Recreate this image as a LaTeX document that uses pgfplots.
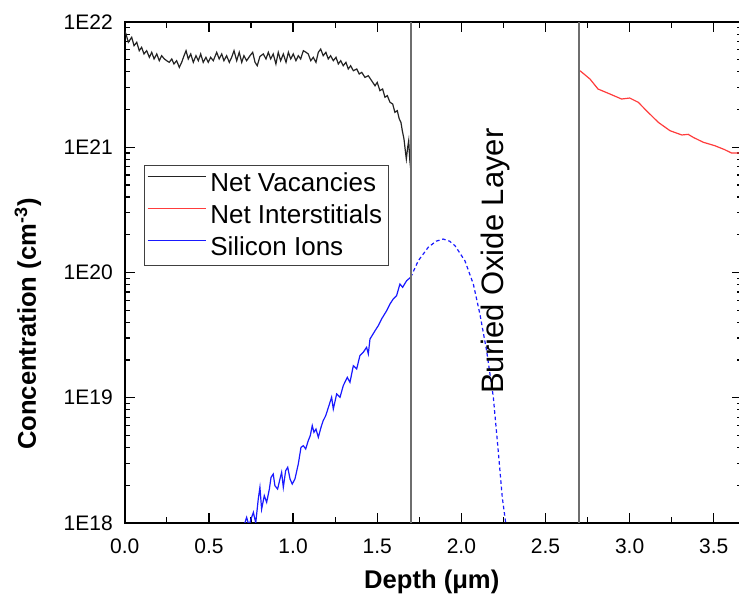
\documentclass[border=0pt]{standalone}
\usepackage{fontspec}
\setmainfont{Liberation Sans}
\usepackage{pgfplots}
\pgfplotsset{compat=1.18}
\definecolor{vacblack}{RGB}{35,35,35}
\definecolor{intred}{RGB}{255,60,60}
\definecolor{ionblue}{RGB}{25,25,255}
\definecolor{divgray}{RGB}{110,110,110}

\begin{document}
% y values are log10 of the concentration (cm^-3)
\begin{tikzpicture}
\useasboundingbox (-62.4pt,-38pt) rectangle (307.1pt,261.5pt);
\clip (-62.4pt,-38pt) rectangle (307.1pt,261.5pt);
\begin{axis}[
  at={(0pt,0pt)}, anchor=south west,
  scale only axis, width=308.8pt, height=250.5pt,
  xmin=0, xmax=3.67, ymin=18, ymax=22,
  xtick={0,0.5,...,3.5},
  xticklabels={0.0,0.5,1.0,1.5,2.0,2.5,3.0,3.5},
  minor x tick num=1,
  ytick={18,19,20,21,22},
  yticklabels={1E18,1E19,1E20,1E21,1E22},
  minor ytick={18.30103,18.47712,18.60206,18.69897,18.77815,18.84510,18.90309,18.95424,
               19.30103,19.47712,19.60206,19.69897,19.77815,19.84510,19.90309,19.95424,
               20.30103,20.47712,20.60206,20.69897,20.77815,20.84510,20.90309,20.95424,
               21.30103,21.47712,21.60206,21.69897,21.77815,21.84510,21.90309,21.95424},
  tick align=inside,
  major tick length=5pt, minor tick length=2.8pt,
  every tick/.style={black, line width=0.6pt},
  axis line style={black, line width=0.9pt},
  tick label style={font=\fontsize{10.5}{12}\selectfont},
  xticklabel style={yshift=-4.5pt},
  yticklabel style={xshift=-2.5pt},
  xlabel={Depth (μm)},
  ylabel={Concentration (cm\textsuperscript{-3})},
  label style={font=\bfseries\fontsize{12.8}{15}\selectfont},
  xlabel style={at={(axis description cs:0.497,-0.118)}, anchor=center},
  ylabel style={at={(axis description cs:-0.157,0.397)}, anchor=center},
  legend style={at={(axis description cs:0.0316,0.7146)}, anchor=north west,
    draw=black!75, font=\fontsize{13}{15.6}\selectfont,
    inner sep=1pt, row sep=0pt,
    nodes={inner sep=2pt, text height=10pt, text depth=2pt}},
  legend cell align=left,
  legend image code/.code={\draw[#1, line width=0.8pt] (0pt,3.5pt) -- (29pt,3.5pt);},
]
\addplot[vacblack, line width=0.6pt] coordinates {
(0.000,21.930) (0.007,21.904) (0.021,21.838) (0.041,21.878) (0.055,21.811)
(0.071,21.838) (0.086,21.771) (0.100,21.798) (0.114,21.745) (0.130,21.771)
(0.146,21.718) (0.160,21.758) (0.174,21.705) (0.190,21.745) (0.205,21.691)
(0.219,21.731) (0.235,21.705) (0.249,21.691) (0.264,21.678) (0.279,21.705)
(0.292,21.665) (0.308,21.691) (0.324,21.638) (0.338,21.678) (0.352,21.731)
(0.364,21.771) (0.377,21.705) (0.392,21.745) (0.407,21.678) (0.423,21.731)
(0.437,21.691) (0.451,21.745) (0.466,21.678) (0.482,21.718) (0.496,21.678)
(0.510,21.718) (0.526,21.691) (0.546,21.758) (0.561,21.705) (0.576,21.745)
(0.589,21.691) (0.605,21.731) (0.621,21.678) (0.635,21.718) (0.649,21.771)
(0.665,21.691) (0.680,21.758) (0.695,21.678) (0.708,21.731) (0.724,21.691)
(0.744,21.731) (0.760,21.758) (0.774,21.678) (0.787,21.651) (0.803,21.725)
(0.823,21.745) (0.839,21.705) (0.853,21.758) (0.867,21.705) (0.882,21.745)
(0.898,21.665) (0.912,21.758) (0.926,21.691) (0.942,21.745) (0.958,21.678)
(0.972,21.758) (0.986,21.705) (1.001,21.745) (1.017,21.691) (1.031,21.731)
(1.045,21.705) (1.061,21.771) (1.077,21.758) (1.090,21.745) (1.105,21.691)
(1.120,21.718) (1.136,21.678) (1.150,21.758) (1.164,21.784) (1.179,21.731)
(1.195,21.758) (1.209,21.705) (1.223,21.731) (1.239,21.691) (1.255,21.718)
(1.269,21.665) (1.283,21.691) (1.298,21.651) (1.314,21.678) (1.328,21.625)
(1.342,21.651) (1.358,21.611) (1.378,21.625) (1.393,21.585) (1.408,21.598)
(1.427,21.558) (1.447,21.571) (1.467,21.531) (1.487,21.491) (1.500,21.518)
(1.516,21.452) (1.532,21.465) (1.546,21.399) (1.560,21.412) (1.576,21.359)
(1.592,21.345) (1.605,21.279) (1.619,21.292) (1.631,21.226) (1.641,21.199)
(1.649,21.132) (1.659,21.066) (1.667,20.972) (1.673,20.906) (1.681,21.000)
(1.687,21.052) (1.693,20.906) (1.699,20.826) (1.700,20.080)
};
\addlegendentry{Net Vacancies}
\addplot[intred, line width=0.6pt] coordinates {
(2.705,21.611) (2.764,21.545) (2.812,21.465) (2.883,21.425) (2.952,21.385)
(3.000,21.393) (3.051,21.359) (3.100,21.292) (3.170,21.199) (3.240,21.132)
(3.310,21.098) (3.348,21.103) (3.378,21.079) (3.437,21.040) (3.507,21.012)
(3.566,20.980) (3.605,20.954) (3.650,20.954) (3.700,20.954)
};
\addlegendentry{Net Interstitials}
\addplot[ionblue, line width=0.6pt] coordinates {
(0.700,17.900) (0.714,18.003) (0.724,18.045) (0.738,17.980) (0.750,18.030)
(0.764,18.085) (0.778,18.000) (0.793,18.190) (0.803,18.285) (0.813,18.110)
(0.829,18.218) (0.843,18.165) (0.859,18.271) (0.869,18.365) (0.882,18.391)
(0.892,18.298) (0.908,18.271) (0.922,18.351) (0.932,18.405) (0.942,18.285)
(0.956,18.418) (0.968,18.445) (0.982,18.351) (0.995,18.311) (1.011,18.351)
(1.031,18.471) (1.047,18.604) (1.061,18.617) (1.075,18.591) (1.090,18.657)
(1.102,18.697) (1.114,18.777) (1.124,18.724) (1.136,18.750) (1.150,18.684)
(1.166,18.764) (1.179,18.817) (1.194,18.857) (1.209,18.920) (1.229,19.004)
(1.239,18.910) (1.259,19.030) (1.279,19.004) (1.298,19.096) (1.322,19.163)
(1.338,19.123) (1.358,19.256) (1.378,19.230) (1.397,19.336) (1.417,19.363)
(1.437,19.403) (1.447,19.350) (1.457,19.469) (1.487,19.535) (1.506,19.575)
(1.526,19.629) (1.556,19.695) (1.576,19.749) (1.595,19.788) (1.615,19.815)
(1.635,19.908) (1.651,19.882) (1.675,19.935) (1.699,19.962)
};
\addlegendentry{Silicon Ions}
\addplot[ionblue, line width=0.6pt, dash pattern=on 1.8pt off 1.4pt, forget plot] coordinates {
(1.699,19.962) (1.744,20.094) (1.803,20.201) (1.850,20.250) (1.892,20.267)
(1.930,20.250) (1.962,20.214) (2.021,20.094) (2.071,19.908) (2.110,19.669)
(2.150,19.376) (2.190,19.004) (2.219,18.577) (2.243,18.205) (2.263,18.005)
(2.270,17.900)
};
% layer boundaries
\addplot[divgray, line width=0.75pt, forget plot] coordinates {(1.7,18) (1.7,22)};
\addplot[divgray, line width=0.75pt, forget plot] coordinates {(2.7,18) (2.7,22)};
\node[rotate=90, font=\fontsize{15.5}{18}\selectfont] at (axis cs:2.2,20.09) {Buried Oxide Layer};
\end{axis}
\end{tikzpicture}
\end{document}
